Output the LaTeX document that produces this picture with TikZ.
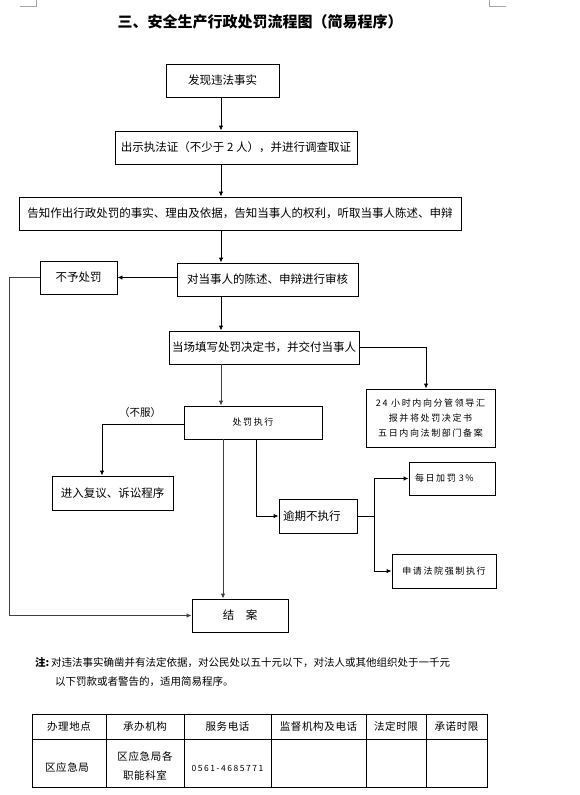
\documentclass[tikz,border=0pt]{standalone}
\usepackage{fontspec}
\setmainfont{Noto Sans CJK SC}
\newfontfamily\cjksp[LetterSpace=18]{Noto Sans CJK SC}
\newfontfamily\cjktb[LetterSpace=6]{Noto Sans CJK SC}
\usetikzlibrary{arrows.meta,positioning}
\tikzset{
  pbox/.style={draw=black, line width=0.9pt, inner sep=0pt, align=center, font=\fontsize{11.5}{13}\selectfont},
  sbox/.style={pbox, font=\cjksp\fontsize{9}{15}\selectfont},
  conn/.style={line width=0.9pt, black},
  arr/.style={conn, -{Latex[length=5pt,width=4.5pt]}},
  tline/.style={line width=0.8pt, black},
  ttext/.style={font=\cjktb\fontsize{10.5}{19}\selectfont, align=center, inner sep=0pt},
}
\begin{document}
\begin{tikzpicture}[x=1pt,y=-1pt]
\fill[white] (0,0) rectangle (580,795);
\useasboundingbox (0,0) rectangle (580,795);
% corner marks
\draw[gray!70, line width=0.6pt] (20,6) -- (36,6) -- (36,0);
\draw[gray!70, line width=0.6pt] (506,6) -- (489,6) -- (489,0);
% title
\node[font=\bfseries\fontsize{15}{17}\selectfont] (title) at (260,22) {三、安全生产行政处罚流程图（简易程序）};
% boxes
\node[pbox, minimum width=113, minimum height=33] (b1) at (222.5,80.5) {发现违法事实};
\node[pbox, minimum width=242, minimum height=33] (b2) at (236,147.5) {出示执法证（不少于 2 人），并进行调查取证};
\node[pbox, minimum width=442, minimum height=33] (b3) at (240,213.5) {告知作出行政处罚的事实、理由及依据，告知当事人的权利，听取当事人陈述、申辩};
\node[pbox, minimum width=181, minimum height=33] (b4) at (267.5,279.5) {对当事人的陈述、申辩进行审核};
\node[pbox, minimum width=77, minimum height=33] (bn) at (78.5,277.5) {不予处罚};
\node[pbox, minimum width=190, minimum height=33] (b5) at (264,347.5) {当场填写处罚决定书，并交付当事人};
\node[sbox, minimum width=129, minimum height=58] (b24) at (430.5,418) {24 小时内向分管领导汇\\报并将处罚决定书\\五日内向法制部门备案};
\node[sbox, minimum width=138, minimum height=33] (bexe) at (253,422.5) {处罚执行};
\node[pbox, minimum width=121, minimum height=34] (bfy) at (112.5,493) {进入复议、诉讼程序};
\node[pbox, minimum width=78, minimum height=34, text width=70, align=left] (byq) at (318,516) {逾期不执行};
\node[sbox, minimum width=86, minimum height=33, text width=74, align=left] (bjf) at (452,478.5) {每日加罚 3\%};
\node[sbox, minimum width=104, minimum height=34] (bsq) at (444,571) {申请法院强制执行};
\node[pbox, minimum width=96, minimum height=33] (bja) at (240,615.5) {结　案};
\node[font=\fontsize{10.5}{12}\selectfont] (bufu) at (140,413) {（不服）};
% helper coordinates
\coordinate (xa) at (221,0);
\coordinate (xb) at (223,0);
\coordinate (xc) at (256,0);
\coordinate (xl) at (9.5,0);
\coordinate (xr) at (426,0);
\coordinate (xs) at (374,0);
\coordinate (xf) at (102,0);
% connectors
\draw[arr] (b1.south -| xa) -- (b2.north -| xa);
\draw[arr] (b2.south -| xa) -- (b3.north -| xa);
\draw[arr] (b3.south -| xa) -- (b4.north -| xa);
\draw[arr] (b4.west |- bn.east) -- (bn.east);
\draw[arr] (b4.south -| xa) -- (b5.north -| xa);
\draw[arr] (b5.east) -| (b24.north -| xr);
\draw[arr, black!75] (b5.south -| xa) -- (bexe.north -| xa);
\draw[arr] (bexe.west |- 0,424) -| (bfy.north -| xf);
\draw[arr, black!75] (bexe.south -| xb) -- (bja.north -| xb);
\draw[arr] (bexe.south -| xc) |- (byq.west);
\draw[conn] (byq.east) -- (byq.east -| xs);
\draw[arr] (bjf.west -| xs) -- (bjf.west);
\draw[arr] (bsq.west -| xs) -- (bsq.west);
\draw[conn] (bjf.west -| xs) -- (bsq.west -| xs);
\draw[arr, black!75] (bn.west) -| (bja.west -| xl) -- (bja.west);
% note
\node[anchor=west, inner sep=0pt, font=\fontsize{10.5}{12}\selectfont] (note1) at (35,663) {{\bfseries 注:}\,对违法事实确凿并有法定依据，对公民处以五十元以下，对法人或其他组织处于一千元};
\node[anchor=west, inner sep=0pt, font=\fontsize{10.5}{12}\selectfont] (note2) at (55,682) {以下罚款或者警告的，适用简易程序。};
% table
\draw[tline] (32,714) rectangle (487,787);
\draw[tline] (32,739) -- (487,739);
\foreach \xx in {106,184,271,366,426} { \draw[tline] (\xx,714) -- (\xx,787); }
\node[ttext] (h1) at (69,726.5) {办理地点};
\node[ttext] (h2) at (145,726.5) {承办机构};
\node[ttext] (h3) at (227.5,726.5) {服务电话};
\node[ttext] (h4) at (318.5,726.5) {监督机构及电话};
\node[ttext] (h5) at (396,726.5) {法定时限};
\node[ttext] (h6) at (456.5,726.5) {承诺时限};
\node[ttext] (r1) at (67,767) {区应急局};
\node[ttext] (r2) at (145,766) {区应急局各\\职能科室};
\node[ttext, font=\cjksp\fontsize{8.5}{10}\selectfont] (r3) at (227.5,768) {0561-4685771};
\end{tikzpicture}
\end{document}
